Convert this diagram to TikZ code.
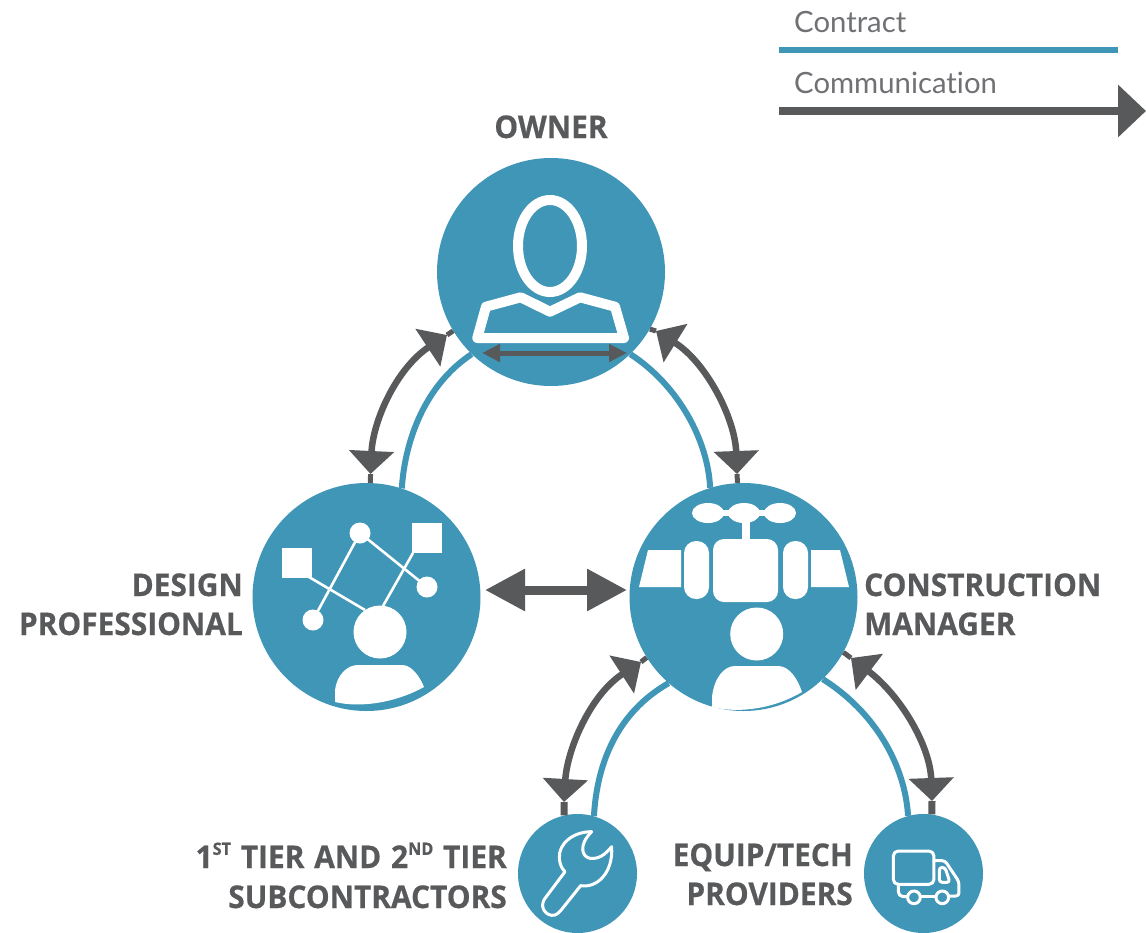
\documentclass[tikz,border=0pt]{standalone}
\usepackage{fontspec}
\setmainfont{Open Sans}[FakeStretch=0.955,BoldFeatures={FakeStretch=0.955,FakeBold=0.5}]
\newfontfamily\legendfont{Lato}[Ligatures=NoCommon]
\usetikzlibrary{arrows.meta}
\definecolor{tealb}{HTML}{4096B6}
\definecolor{greyd}{HTML}{58595B}
\definecolor{greyl}{HTML}{707174}
\newcommand{\supr}[1]{\raisebox{0.42em}{\fontsize{17}{17}\selectfont #1}}
\tikzset{
  bigc/.style={circle,fill=tealb,draw=none,minimum size=228pt,inner sep=0pt},
  smallc/.style={circle,fill=tealb,draw=none,minimum size=119pt,inner sep=0pt},
  contractl/.style={draw=tealb,line width=6pt},
  commarrow/.style={draw=greyd,line width=6.5pt,{Triangle[length=23pt,width=44pt]}-{Triangle[length=23pt,width=44pt]}},
  stubthin/.style={draw=greyd,line width=5pt},
  stubwide/.style={draw=greyd,line width=7pt},
  lbl/.style={text=greyd,font=\fontsize{31.3}{36}\selectfont\bfseries,inner sep=0pt},
  leg/.style={text=greyl,font=\legendfont\fontsize{29.3}{34}\selectfont,inner sep=0pt,anchor=base west},
  icon/.style={draw=white,line join=round,line cap=round},
  thinl/.style={draw=white,line width=2.6pt}
}
\begin{document}
\begin{tikzpicture}[x=1pt,y=-1pt]
\useasboundingbox (0,0) rectangle (1146,932);
\fill[white] (0,0) rectangle (1146,932);
% legend
\node[leg] (lc) at (794,32) {Contract};
\coordinate (la) at (779,50);
\coordinate (lb) at (1118,50);
\draw[contractl] (la) -- (lb);
\node[leg] (lm) at (794,93) {Communication};
\coordinate (ma) at (779,111);
\coordinate (mb) at (1146,111);
\draw[draw=greyd,line width=8pt,-{Triangle[length=28pt,width=51pt]}] (ma) -- (mb);
% circles
\node[bigc] (own) at (551,272) {};
\node[bigc] (dp) at (366.5,597) {};
\node[bigc] (cm) at (743.5,597) {};
\node[smallc] (sub) at (577.5,873.5) {};
\node[smallc] (eq) at (923.5,873.5) {};
% labels
\node[lbl,anchor=base] (town) at (551,138) {OWNER};
\node[lbl,anchor=base east] (td1) at (243,596) {DESIGN};
\node[lbl,anchor=base east] (td2) at (243,635) {PROFESSIONAL};
\node[lbl,anchor=base west] (tc1) at (864,596) {CONSTRUCTION};
\node[lbl,anchor=base west] (tc2) at (864,635) {MANAGER};
\node[lbl,anchor=base east] (ts1) at (507,868) {1\supr{ST}\hspace{2pt} TIER\hspace{2pt} AND\hspace{2pt} 2\supr{ND}\hspace{2pt} TIER};
\node[lbl,anchor=base east] (ts2) at (507,908) {SUBCONTRACTORS};
\node[lbl,anchor=base east] (te1) at (853,866) {EQUIP/TECH};
\node[lbl,anchor=base east] (te2) at (853,905) {PROVIDERS};
% contract lines
\draw[contractl] (dp.72) .. controls (405,440) and (425,385) .. (own.226);
\draw[contractl] (cm.107) .. controls (708,440) and (678,385) .. (own.314);
\draw[contractl] (sub.74) .. controls (597,762) and (618,712) .. (cm.229);
\draw[contractl] (eq.105) .. controls (905,765) and (875,712) .. (cm.314);
% communication arrows
\coordinate (a1) at (370.5,474);
\coordinate (a2) at (447,335);
\draw[commarrow] (a1) .. controls (373,420) and (397,368) .. (a2);
\draw[stubthin] (a1) -- (dp.88);
\draw[stubthin] (a2) -- (own.211);
\coordinate (b1) at (737,474);
\coordinate (b2) at (656,331);
\draw[commarrow] (b1) .. controls (735,418) and (706,362) .. (b2);
\draw[stubthin] (b1) -- (cm.93);
\draw[stubthin] (b2) -- (own.330);
\coordinate (c1) at (564,802);
\coordinate (c2) at (641,662);
\draw[commarrow] (c1) .. controls (567,750) and (590,695) .. (c2);
\draw[stubwide] (c1) -- (sub.103);
\draw[stubthin] (c2) -- (cm.212);
\coordinate (d1) at (932,801);
\coordinate (d2) at (851,658);
\draw[commarrow] (d1) .. controls (930,745) and (900,695) .. (d2);
\draw[stubwide] (d1) -- (eq.82);
\draw[stubthin] (d2) -- (cm.331);
% DP - CM
\coordinate (e1) at (485,590);
\coordinate (e2) at (627,590);
\draw[draw=greyd,line width=9pt,{Triangle[length=40pt,width=40pt]}-{Triangle[length=40pt,width=40pt]}] (e1) -- (e2);
% owner inner arrow
\coordinate (f1) at (482,353);
\coordinate (f2) at (627,353);
\draw[draw=greyd,line width=5pt,{Triangle[length=18pt,width=17pt]}-{Triangle[length=18pt,width=17pt]}] (f1) -- (f2);
% owner icon
\draw[icon,line width=10pt] (550,246) ellipse [x radius=32,y radius=46];
\draw[icon,line width=10pt] (477.3,338) -- (486,306.7) -- (520.7,297.3) -- (550,311.7) -- (580,297.3) -- (615,306.7) -- (624,338) -- cycle;
% CM icon
\fill[white] (708,513) ellipse [x radius=16,y radius=10];
\fill[white] (744,513) ellipse [x radius=16,y radius=10];
\fill[white] (780,513) ellipse [x radius=16,y radius=10];
\fill[white] (708,510) rectangle (780,516);
\fill[white] (741.7,518) rectangle (750,542);
\fill[white,rounded corners=11pt] (713,539) rectangle (778,602);
\fill[white,rounded corners=12pt] (684,541) rectangle (709,599);
\fill[white,rounded corners=12pt] (783,541) rectangle (808,599);
\fill[white] (648,550) -- (681,550) -- (681,587) -- (639,587) -- cycle;
\fill[white] (811,550) -- (840,550) -- (849,587) -- (811,587) -- cycle;
\fill[white] (756.7,634) circle (26.5);
\fill[white] (712,707) -- (712,697) .. controls (714,678) and (724,666) .. (735,666) -- (778,666) .. controls (790,666) and (798,680) .. (802,692) .. controls (775,708) and (740,714) .. cycle;
% DP icon
\draw[thinl] (309,577) -- (365,610);
\draw[thinl] (360,533) -- (313,620);
\draw[thinl] (360,533) -- (427,587);
\draw[thinl] (413,553) -- (383,606);
\fill[white] (282,548) rectangle (312,578);
\fill[white] (412,523) rectangle (442,553);
\fill[white] (360,533) circle (10.5);
\fill[white] (427,587) circle (10.5);
\fill[white] (313,620) circle (10.5);
\fill[white] (380,632) circle (26.5);
\fill[white] (335,702) -- (335,690) .. controls (337,675) and (347,665) .. (358,665) -- (402,665) .. controls (412,665) and (420,677) .. (424,687) .. controls (395,703) and (360,708) .. cycle;
% wrench
\begin{scope}[shift={(510,790)},x=0.3333pt,y=-0.3333pt]
\draw[icon,line width=3pt] (245,125) .. controls (190,125) and (145,160) .. (148,205) .. controls (150,225) and (155,235) .. (165,245) -- (105,325) .. controls (90,345) and (100,372) .. (125,376) .. controls (140,378) and (150,365) .. (160,352) -- (212,287) .. controls (260,295) and (310,250) .. (305,170) .. controls (285,195) and (265,208) .. (240,205) .. controls (215,200) and (205,165) .. cycle;
% truck
\draw[icon,line width=3pt,rounded corners=5pt] (1150,183) rectangle (1272,283);
\draw[icon,line width=3pt,rounded corners=3pt] (1272,212) -- (1305,212) -- (1347,275) -- (1347,318) -- (1318,318);
\draw[icon,line width=3pt,rounded corners=3pt] (1288,232) -- (1305,232) -- (1320,277) -- (1288,277) -- cycle;
\draw[icon,line width=3pt] (1234,320) -- (1276,320);
\draw[icon,line width=3pt,rounded corners=5pt] (1165,285) -- (1165,320) -- (1192,320);
\draw[icon,line width=3pt] (1212,322) circle (19);
\draw[icon,line width=3pt] (1297,322) circle (19);
\end{scope}
\end{tikzpicture}
\end{document}
